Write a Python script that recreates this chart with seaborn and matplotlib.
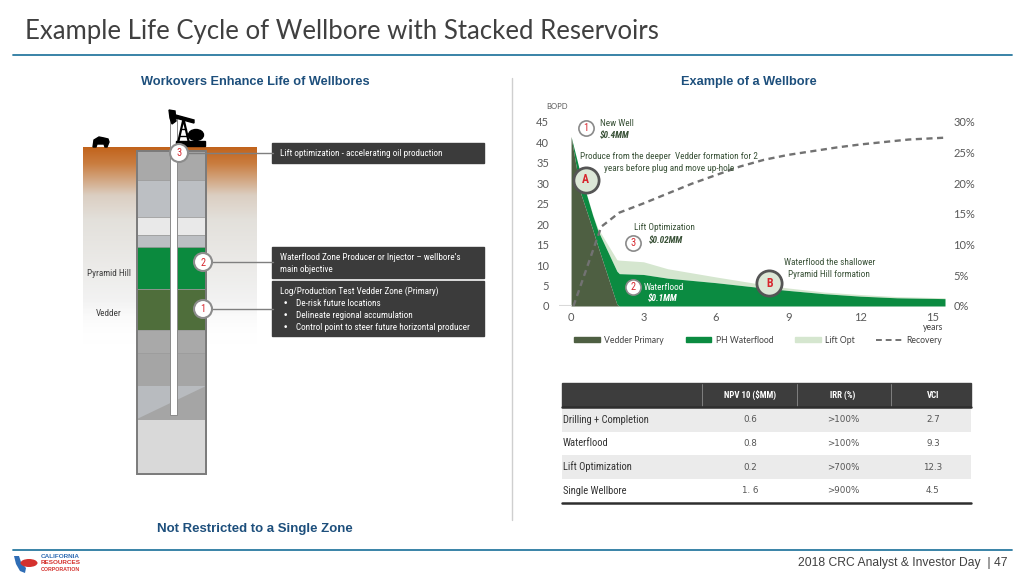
import numpy as np
import matplotlib

matplotlib.use("Agg")
import matplotlib.pyplot as plt
import matplotlib.transforms as mtransforms
import seaborn as sns
from matplotlib import font_manager
from matplotlib.lines import Line2D
from matplotlib.patches import Circle, Ellipse, Patch, Polygon, Rectangle

# production profile, BOPD (stacked)
years = [0, 0.4, 0.9, 1.1, 1.9, 2.0, 3, 4, 6, 8, 9, 10.5, 12, 13.5, 15.5]
vedder_primary = [41.4, 27.5, 18.6, 14.8, 0.4, 0, 0, 0, 0, 0, 0, 0, 0, 0, 0]
ph_waterflood = [0, 4.5, 3.5, 3.8, 8.1, 7.9, 7.7, 6.8, 5.7, 4.4, 3.8, 3.0, 2.4, 2.0, 1.8]
lift_opt = [0, 0, 0.2, 0.5, 2.8, 3.3, 3.1, 2.3, 1.4, 0.8, 0.6, 0.4, 0.4, 0.3, 0.2]

# recovery, % (right axis)
rec_years = [0.1, 1.25, 2, 3, 4, 5, 6, 7, 8, 9, 10, 11, 12, 13, 14, 15.5]
rec_pct = [0, 12.9, 15.2, 16.7, 18.3, 19.9, 21.3, 22.7, 23.8, 24.6, 25.2, 25.8, 26.3, 26.7, 27.1, 27.4]

x_ticks = [0, 3, 6, 9, 12, 15]
y_ticks = [0, 5, 10, 15, 20, 25, 30, 35, 40, 45]
pct_ticks = [0, 5, 10, 15, 20, 25, 30]
legend_labels = ["Vedder Primary", "PH Waterflood", "Lift Opt", "Recovery"]

# economics table
table_rows = ["Drilling + Completion", "Waterflood", "Lift Optimization", "Single Wellbore"]
table_cols = ["NPV 10 ($MM)", "IRR (%)", "VCI"]
npv10 = ["0.6", "0.8", "0.2", "1. 6"]
irr = [">100%", ">100%", ">700%", ">900%"]
vci = ["2.7", "9.3", "12.3", "4.5"]

VEDDER_C = "#4e5f42"
PH_C = "#0b8b41"
LIFT_C = "#d5e6cf"
REC_C = "#727272"
RED = "#d7262e"
BLUE = "#1d4f7c"
DARK_BOX = "#3b3b3b"
TXT = "#404040"


def first_font(candidates, fallback):
    names = {f.name for f in font_manager.fontManager.ttflist}
    for c in candidates:
        if c in names:
            return c
    return fallback


sns.set_theme(style="white")
NARROW = first_font(["Roboto Condensed", "Liberation Sans Narrow", "Open Sans Condensed"], "Lato")
plt.rcParams["font.family"] = ["Lato", "DejaVu Sans"]

fig = plt.figure(figsize=(10.24, 5.76), dpi=100)

# full-figure canvas in pixel units for the slide decorations
bg = fig.add_axes([0, 0, 1, 1], zorder=0)
bg.set_xlim(0, 1024)
bg.set_ylim(576, 0)
bg.axis("off")

# title + rules
bg.text(25, 31, "Example Life Cycle of Wellbore with Stacked Reservoirs",
        fontsize=18.5, color=TXT, va="center", ha="left", family="Lato")
bg.plot([13, 1012], [55, 55], color="#2a7aa0", lw=1.3)
bg.plot([13, 1012], [550, 550], color="#2a7aa0", lw=1.3)
bg.plot([512, 512], [78, 520], color="#cfcfcf", lw=1)

bg.text(255, 82, "Workovers Enhance Life of Wellbores", fontsize=9.2, color=BLUE,
        weight="bold", ha="center", va="center", family="Liberation Sans")
bg.text(749, 82, "Example of a Wellbore", fontsize=9.2, color=BLUE,
        weight="bold", ha="center", va="center", family="Liberation Sans")
bg.text(255, 529, "Not Restricted to a Single Zone", fontsize=9.5, color=BLUE,
        weight="bold", ha="center", va="center", family="Liberation Sans")
bg.text(1007, 563, "2018 CRC Analyst & Investor Day  | 47", fontsize=8.7, color=TXT,
        ha="right", va="center", family="Liberation Sans")

# logo
bg.add_patch(Polygon([[14, 556], [19, 556], [21, 562], [26, 568], [25, 573], [20, 571], [16, 564]],
                     closed=True, color="#2f6db5", lw=0))
bg.add_patch(Ellipse((29, 563), 17, 8, color="#d4312d", lw=0))
bg.text(41, 556, "CALIFORNIA", fontsize=4.6, color="#2f6db5", weight="bold", va="center",
        family="Liberation Sans")
bg.text(41, 563, "RESOURCES", fontsize=4.6, color="#d4312d", weight="bold", va="center",
        family="Liberation Sans")
bg.text(41, 569.5, "CORPORATION", fontsize=3.8, color="#d4312d", weight="bold", va="center",
        family="Liberation Sans")

# ground gradient behind the well
gy = np.linspace(147, 345, 200)
stops = [147, 163, 195, 220, 300, 345]
rgb_stops = np.array([[0.76, 0.39, 0.11], [0.79, 0.49, 0.25], [0.86, 0.81, 0.76],
                      [0.89, 0.88, 0.86], [0.95, 0.95, 0.95], [1, 1, 1]])
img = np.ones((len(gy), 2, 4))
for k in range(3):
    img[:, :, k] = np.interp(gy, stops, rgb_stops[:, k])[:, None]
img[:, :, 3] = np.interp(gy, [147, 300, 345], [1, 1, 0])[:, None]
bg.imshow(img, extent=[83, 257, 345, 147], origin="upper", aspect="auto", zorder=1)
bg.set_xlim(0, 1024)
bg.set_ylim(576, 0)

# well layers
layers = [(151, 180, "#a9a9a9"), (180, 217, "#bcbfc3"), (217, 235, "#e9e9e9"),
          (235, 247, "#bcbfc3"), (247, 289, "#0b8a3e"), (289, 330, "#4f6e3b"),
          (330, 353, "#a9a9a9"), (353, 386, "#a5a5a5"), (386, 419, "#a5a5a5"),
          (419, 474, "#d9d9d9")]
for top, bot, c in layers:
    bg.add_patch(Rectangle((137, top), 69, bot - top, facecolor=c, edgecolor="#9a9a9a",
                           lw=0.5, zorder=2))
bg.add_patch(Polygon([[137, 386], [206, 386], [137, 419]], closed=True,
                     facecolor="#b8bbbf", lw=0, zorder=2))
bg.add_patch(Rectangle((137, 151), 69, 323, fill=False, edgecolor="#7b7b7b", lw=1.4, zorder=3))
bg.add_patch(Rectangle((170, 118), 7, 297, facecolor="white", edgecolor="#8a8a8a",
                       lw=0.7, zorder=3))

# pump jack + bear silhouettes
bg.add_patch(Polygon([[172, 114], [194, 120], [194, 123], [172, 117]], closed=True,
                     color="black", zorder=4))
bg.add_patch(Polygon([[169, 110], [175, 111], [176, 121], [172, 124], [170, 118]],
                     closed=True, color="black", zorder=4))
bg.plot([178, 183.5, 189], [143, 119, 143], color="black", lw=1.6, zorder=4)
bg.plot([180, 187], [136, 136], color="black", lw=1, zorder=4)
bg.plot([181.5, 185.5], [129, 129], color="black", lw=1, zorder=4)
bg.add_patch(Ellipse((196, 135), 15, 11, color="black", zorder=4))
bg.add_patch(Rectangle((176, 141), 29, 5, color="black", zorder=4))
bg.add_patch(Polygon([[93, 147], [94, 140], [99, 137], [104, 138], [108, 139], [109, 142],
                      [107, 147], [105, 147], [104, 144], [97, 144], [96, 147]],
                     closed=True, color="black", zorder=4))

# well callouts
well_marks = [("3", 179, 153), ("2", 203, 262), ("1", 203, 309)]
for label, cx, cy in well_marks:
    bg.plot([cx + 9, 273], [cy, cy], color="#7f7f7f", lw=1, zorder=4)
    bg.add_patch(Circle((cx, cy), 9, facecolor="white", edgecolor="#8c8c8c", lw=1.5, zorder=5))
    bg.text(cx, cy + 0.5, label, color=RED, fontsize=7.5, ha="center", va="center", zorder=6,
            family=NARROW)

box_fs = 6.6
bg.add_patch(Rectangle((272, 143), 212, 20, color=DARK_BOX, zorder=2))
bg.text(280, 153.5, "Lift optimization - accelerating oil production", color="white",
        fontsize=box_fs, va="center", family=NARROW)
bg.add_patch(Rectangle((272, 247), 212, 31, color=DARK_BOX, zorder=2))
bg.text(280, 257, "Waterflood Zone Producer or Injector \u2013 wellbore\u2019s", color="white",
        fontsize=box_fs, va="center", family=NARROW)
bg.text(280, 269, "main objective", color="white", fontsize=box_fs, va="center", family=NARROW)
bg.add_patch(Rectangle((272, 281), 212, 55, color=DARK_BOX, zorder=2))
bg.text(280, 291, "Log/Production Test Vedder Zone (Primary)", color="white",
        fontsize=box_fs, va="center", family=NARROW)
for yy, s in zip([303, 315, 327], ["De-risk future locations", "Delineate regional accumulation",
                                   "Control point to steer future horizontal producer"]):
    bg.text(283, yy, "\u2022", color="white", fontsize=box_fs, va="center", family="DejaVu Sans")
    bg.text(296, yy, s, color="white", fontsize=box_fs, va="center", family=NARROW)

bg.text(109, 273, "Pyramid Hill", color=TXT, fontsize=6.7, ha="center", va="center", family=NARROW)
bg.text(109, 313, "Vedder", color=TXT, fontsize=6.7, ha="center", va="center", family=NARROW)

# economics table
tx0, tx1 = 562, 971
col_x = [750, 843, 933]
bg.add_patch(Rectangle((tx0, 383), tx1 - tx0, 23, color="#3d3d3d", zorder=2))
for sx in [702, 797, 891]:
    bg.plot([sx, sx], [384, 406], color="#8a8a8a", lw=0.6, zorder=3)
for cx, c in zip(col_x, table_cols):
    bg.text(cx, 395, c, color="white", fontsize=6.4, weight="bold", ha="center", va="center",
            family=NARROW, zorder=4)
row_h = 23.6
for i, name in enumerate(table_rows):
    top = 408 + i * row_h
    if i % 2 == 0:
        bg.add_patch(Rectangle((tx0, top), tx1 - tx0, row_h, color="#ebebeb", lw=0, zorder=1))
    cy = top + row_h / 2
    bg.text(tx0 + 1, cy, name, color="#333333", fontsize=7.6, ha="left", va="center", family=NARROW)
    for cx, v in zip(col_x, [npv10[i], irr[i], vci[i]]):
        bg.text(cx, cy, v, color="#555555", fontsize=6.3, ha="center", va="center",
                family="DejaVu Sans")
bg.plot([tx0, tx1], [407, 407], color="#2e2e2e", lw=1.8, zorder=3)
bg.plot([tx0, tx1], [502.5, 502.5], color="#2e2e2e", lw=1.8, zorder=3)

# production chart
ax = fig.add_axes([559 / 1024, 1 - 306 / 576, 386 / 1024, 184.3 / 576], zorder=2)
ax.patch.set_alpha(0)
yv = np.array(vedder_primary)
yp = yv + np.array(ph_waterflood)
yl = yp + np.array(lift_opt)
ax.plot([-0.5, 0], [0, 0], color="#d9d9d9", lw=1.5)
ax.fill_between(years, yp, yl, color=LIFT_C, lw=0)
ax.fill_between(years, yv, yp, color=PH_C, lw=0)
ax.fill_between(years, 0, yv, color=VEDDER_C, lw=0)
ax.set_xlim(-0.5, 15.5)
ax.set_ylim(0, 45)
ax.set_xticks(x_ticks)
ax.set_yticks(y_ticks)
ax.tick_params(axis="both", length=0, labelsize=8, labelcolor="#595959")
ax.tick_params(axis="y", pad=7)
ax.tick_params(axis="x", pad=4)
sns.despine(ax=ax, left=True, bottom=True)

ax2 = ax.twinx()
sns.lineplot(x=rec_years, y=rec_pct, ax=ax2, color=REC_C, lw=1.7)
ax2.lines[-1].set_linestyle((0, (2.6, 1.9)))
ax2.set_ylim(0, 30)
ax2.set_yticks(pct_ticks)
ax2.set_yticklabels([f"{p}%" for p in pct_ticks])
ax2.set_ylabel("")
ax2.tick_params(axis="y", length=0, labelsize=8, labelcolor="#595959", pad=6)
sns.despine(ax=ax2, left=True, bottom=True, right=True)
ax2.grid(False)
ax.grid(False)

blend = mtransforms.blended_transform_factory(ax.transData, ax.transAxes)
ax.text(15, -0.115, "years", transform=blend, fontsize=6.2, color=TXT, ha="center", va="center")
ax.text(-0.005, 1.08, "BOPD", transform=ax.transAxes, fontsize=5.5, color="#595959",
        ha="center", va="center")

T = ax.transData
note_c = "#3a5238"
ann_fs = 6.7
for label, cx, cy, big in [("1", 0.62, 43.5, False), ("3", 2.58, 15.5, False),
                           ("2", 2.58, 4.6, False), ("A", 0.61, 30.8, True),
                           ("B", 8.22, 5.5, True)]:
    ax2.scatter([cx], [cy], transform=T, s=330 if big else 120,
                facecolor="#dce7d7" if big else "white",
                edgecolor="#555555" if big else "#8a8a8a", lw=2 if big else 1.2,
                zorder=6, clip_on=False)
    ax2.text(cx, cy, label, transform=T, color=RED, fontsize=8.5 if big else 7.5,
             weight="bold" if big else "normal", ha="center", va="center", zorder=7,
             family=NARROW)

ax2.text(1.2, 44.6, "New Well", transform=T, color=note_c, fontsize=ann_fs, va="center", family=NARROW)
ax2.text(1.2, 41.7, "$0.4MM", transform=T, color=note_c, fontsize=ann_fs, va="center",
         style="italic", weight="bold", family=NARROW)
ax2.text(4.05, 35.05, "Produce from the deeper  Vedder formation for 2\nyears before plug and move up-hole",
         transform=T, color=note_c, fontsize=ann_fs, ha="center", va="center", linespacing=1.35,
         family=NARROW)
ax2.text(3.88, 19.1, "Lift Optimization", transform=T, color=note_c, fontsize=ann_fs,
         ha="center", va="center", family=NARROW)
ax2.text(3.93, 15.9, "$0.02MM", transform=T, color=note_c, fontsize=ann_fs, ha="center",
         va="center", style="italic", weight="bold", family=NARROW)
ax2.text(3.0, 4.6, "Waterflood", transform=T, color="white", fontsize=ann_fs, va="center",
         family=NARROW)
ax2.text(3.18, 1.9, "$0.1MM", transform=T, color="white", fontsize=ann_fs, va="center",
         style="italic", weight="bold", family=NARROW)
ax2.text(10.7, 9.15, "Waterflood the shallower\nPyramid Hill formation", transform=T,
         color=note_c, fontsize=ann_fs, ha="center", va="center", linespacing=1.45, family=NARROW)

handles = [Patch(color=VEDDER_C), Patch(color=PH_C), Patch(color=LIFT_C),
           Line2D([], [], color=REC_C, lw=1.4, ls=(0, (3, 2)))]
ax2.legend(handles, legend_labels, loc="center", bbox_to_anchor=(0.516, -0.185), ncol=4,
           frameon=False, fontsize=6.2, handlelength=3.0, handleheight=0.55, columnspacing=2.5,
           handletextpad=0.5, labelcolor=TXT)

fig.savefig("out.png", dpi=100)
